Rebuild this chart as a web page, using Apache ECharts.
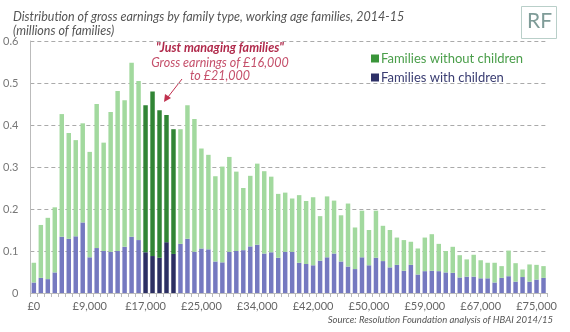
<!DOCTYPE html>
<html>
<head>
<meta charset="utf-8">
<script src="https://cdn.jsdelivr.net/npm/echarts@6/dist/echarts.min.js"></script>
<style>
  html, body { margin: 0; padding: 0; background: #fff; }
  #chart { width: 570px; height: 332px; }
</style>
</head>
<body>
<div id="chart"></div>
<script>
// Tick labels shown every 8th earnings band
const tickLabels = ['£0', '£9,000', '£17,000', '£25,000', '£34,000', '£42,000', '£50,000', '£59,000', '£67,000', '£75,000'];
const labelEvery = 8;

// Families with children (millions), per earnings band
const withChildren = [
  0.025, 0.036, 0.033, 0.049, 0.134, 0.129, 0.135, 0.168, 0.085, 0.107,
  0.100, 0.098, 0.100, 0.110, 0.134, 0.126, 0.097, 0.088, 0.084, 0.121,
  0.093, 0.117, 0.129, 0.098, 0.106, 0.104, 0.075, 0.073, 0.098, 0.100,
  0.102, 0.111, 0.115, 0.094, 0.097, 0.084, 0.098, 0.098, 0.072, 0.069,
  0.066, 0.077, 0.085, 0.094, 0.075, 0.063, 0.057, 0.085, 0.066, 0.084,
  0.076, 0.061, 0.067, 0.053, 0.067, 0.044, 0.052, 0.053, 0.052, 0.049,
  0.048, 0.037, 0.039, 0.039, 0.035, 0.035, 0.025, 0.036, 0.040, 0.027,
  0.038, 0.027, 0.032, 0.036
];

// Families without children (millions), per earnings band
const withoutChildren = [
  0.047, 0.126, 0.146, 0.155, 0.292, 0.252, 0.229, 0.236, 0.251, 0.343,
  0.258, 0.333, 0.381, 0.349, 0.414, 0.379, 0.350, 0.392, 0.351, 0.303,
  0.297, 0.273, 0.318, 0.316, 0.238, 0.225, 0.203, 0.228, 0.226, 0.189,
  0.148, 0.168, 0.193, 0.196, 0.180, 0.152, 0.141, 0.127, 0.161, 0.150,
  0.162, 0.106, 0.145, 0.126, 0.110, 0.150, 0.099, 0.111, 0.084, 0.112,
  0.084, 0.089, 0.065, 0.073, 0.055, 0.062, 0.080, 0.087, 0.065, 0.051,
  0.062, 0.053, 0.041, 0.052, 0.043, 0.037, 0.047, 0.028, 0.061, 0.044,
  0.018, 0.041, 0.035, 0.028
];

// "Just managing families" band indices
const highlightStart = 16;
const highlightEnd = 20;

const categories = withChildren.map((_, i) =>
  i % labelEvery === 0 && tickLabels[i / labelEvery] ? tickLabels[i / labelEvery] : ('b' + i));

const C = {
  lightGreen: '#a2d99e', darkGreen: '#318535',
  lightPurple: '#7579c0', darkNavy: '#2c2f63'
};

function styled(arr, light, dark) {
  return arr.map((v, i) => (i >= highlightStart && i <= highlightEnd)
    ? { value: v, itemStyle: { color: dark } } : v);
}

const chart = echarts.init(document.getElementById('chart'), null, { renderer: 'canvas' });
chart.setOption({
  animation: false,
  backgroundColor: '#fff',
  textStyle: { fontFamily: 'Lato' },
  title: {
    text: 'Distribution of gross earnings by family type, working age families, 2014-15\n(millions of families)',
    left: 8, top: 5,
    textStyle: { fontFamily: 'Lato', fontStyle: 'italic', fontWeight: 'normal', fontSize: 12.5, color: '#555', lineHeight: 14 }
  },
  legend: {
    orient: 'vertical', left: 366, top: 47,
    itemWidth: 8, itemHeight: 8, itemGap: 6, icon: 'rect',
    selectedMode: false,
    data: [
      { name: 'Families without children', itemStyle: { color: '#3a953a' }, textStyle: { color: '#4a9e4a' } },
      { name: 'Families with children', itemStyle: { color: '#2e3168' }, textStyle: { color: '#3a3d72' } }
    ],
    textStyle: { fontFamily: 'Lato', fontSize: 13, padding: [0, 0, 0, -3] }
  },
  grid: { left: 27, right: 23, top: 41, bottom: 39 },
  xAxis: {
    type: 'category',
    data: categories,
    axisLine: { lineStyle: { color: '#bbb' } },
    axisTick: { show: true, interval: 0, length: 4, lineStyle: { color: '#bbb' } },
    axisLabel: {
      interval: labelEvery - 1, color: '#666', fontSize: 11, margin: 8,
      formatter: v => v.startsWith('£') ? v : ''
    }
  },
  yAxis: {
    type: 'value', min: 0, max: 0.6, interval: 0.1,
    axisLine: { show: true, lineStyle: { color: '#bbb' } },
    axisTick: { show: false },
    axisLabel: { color: '#777', fontSize: 11, margin: 12, formatter: v => v === 0 ? '0' : v.toFixed(1) },
    splitLine: { lineStyle: { color: '#aaa', type: [4, 3] } }
  },
  series: [
    {
      name: 'Families with children', type: 'bar', stack: 'fam',
      data: styled(withChildren, C.lightPurple, C.darkNavy),
      itemStyle: { color: C.lightPurple },
      barCategoryGap: '36%'
    },
    {
      name: 'Families without children', type: 'bar', stack: 'fam',
      data: styled(withoutChildren, C.lightGreen, C.darkGreen),
      itemStyle: { color: C.lightGreen },
      barCategoryGap: '36%'
    }
  ],
  graphic: [
    { type: 'rect', left: 521, top: 6, shape: { width: 35, height: 32 }, style: { fill: '#fff', stroke: '#b9cfc9', lineWidth: 1 } },
    { type: 'text', left: 527, top: 11, style: { text: 'RF', fill: '#7f9c98', font: '21px Lato' } },
    { type: 'text', x: 220, y: 48, style: { text: '"Just managing families"', fill: '#b02a4b', font: 'italic bold 12.5px Lato', textAlign: 'center', textVerticalAlign: 'middle' } },
    { type: 'text', x: 220, y: 63, style: { text: 'Gross earnings of £16,000', fill: '#c5506b', font: 'italic 12.5px Lato', textAlign: 'center', textVerticalAlign: 'middle' } },
    { type: 'text', x: 220, y: 76, style: { text: 'to £21,000', fill: '#c5506b', font: 'italic 12.5px Lato', textAlign: 'center', textVerticalAlign: 'middle' } },
    { type: 'line', shape: { x1: 182, y1: 79, x2: 168, y2: 97 }, style: { stroke: '#c0304e', lineWidth: 1 } },
    { type: 'polygon', shape: { points: [[164, 102], [165, 94], [171, 98]] }, style: { fill: '#c0304e' } },
    { type: 'text', right: 17, top: 315, style: { text: 'Source: Resolution Foundation analysis of HBAI 2014/15', fill: '#555', font: 'italic 9.5px Lato' } }
  ]
});
</script>
</body>
</html>
